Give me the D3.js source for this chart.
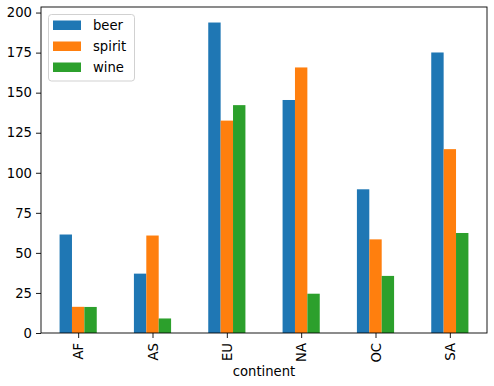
<!DOCTYPE html>
<html>
<head>
<meta charset="utf-8">
<script src="https://cdn.jsdelivr.net/npm/d3@7"></script>
<style>
  body { margin: 0; background: #fff; }
  text { font-family: "DejaVu Sans", sans-serif; fill: #000; }
</style>
</head>
<body>
<svg id="chart" width="494" height="386"></svg>
<script>
// mean servings per continent
const continents = ['AF', 'AS', 'EU', 'NA', 'OC', 'SA'];
const seriesNames = ['beer', 'spirit', 'wine'];
const beer = [61.47, 37.05, 193.78, 145.43, 89.69, 175.08];
const spirit = [16.34, 60.84, 132.56, 165.74, 58.44, 114.75];
const wine = [16.26, 9.07, 142.22, 24.52, 35.63, 62.42];
const yTicks = [0, 25, 50, 75, 100, 125, 150, 175, 200];
const colors = ['#1f77b4', '#ff7f0e', '#2ca02c'];

const series = [beer, spirit, wine];

const margin = {left: 41, right: 7, top: 7, bottom: 53};
const width = 494, height = 386;
const fontSize = 13.2;

const svg = d3.select('#chart');

// pandas puts groups at integer positions with xlim -0.5 .. n-0.5
const x = d3.scaleLinear()
    .domain([-0.5, continents.length - 0.5])
    .range([margin.left, width - margin.right]);

const yMax = d3.max(series.flat()) * 1.05;
const y = d3.scaleLinear()
    .domain([0, yMax])
    .range([height - margin.bottom, margin.top]);

const groupWidth = 0.5;
const barW = groupWidth / series.length;

// bars
series.forEach((vals, s) => {
  svg.append('g')
    .selectAll('rect')
    .data(vals)
    .join('rect')
      .attr('x', (d, i) => x(i - groupWidth / 2 + s * barW))
      .attr('width', x(barW) - x(0))
      .attr('y', d => y(d))
      .attr('height', d => y(0) - y(d))
      .attr('fill', colors[s]);
});

// y axis
const yAxis = svg.append('g')
    .attr('transform', `translate(${margin.left},0)`)
    .call(d3.axisLeft(y).tickValues(yTicks).tickSize(5).tickPadding(4));

// x axis with rotated labels
const xAxis = svg.append('g')
    .attr('transform', `translate(0,${height - margin.bottom})`)
    .call(d3.axisBottom(x).tickValues(d3.range(continents.length))
      .tickFormat(i => continents[i]).tickSize(5).tickPadding(0));

xAxis.selectAll('text')
    .attr('transform', 'rotate(-90)')
    .attr('text-anchor', 'end')
    .attr('x', -10)
    .attr('y', 0)
    .attr('dy', '0.36em');

[xAxis, yAxis].forEach(ax => {
  ax.selectAll('text').style('font-size', fontSize + 'px').attr('fill', '#000');
  ax.selectAll('line').attr('stroke', '#000').attr('stroke-width', 0.9);
  ax.select('.domain').remove();
});

// frame
svg.append('rect')
    .attr('x', margin.left)
    .attr('y', margin.top)
    .attr('width', width - margin.left - margin.right)
    .attr('height', height - margin.top - margin.bottom)
    .attr('fill', 'none')
    .attr('stroke', '#000')
    .attr('stroke-width', 0.9);

// x label
svg.append('text')
    .attr('x', (margin.left + width - margin.right) / 2)
    .attr('y', 376)
    .attr('text-anchor', 'middle')
    .style('font-size', fontSize + 'px')
    .text('continent');

// legend
const legend = svg.append('g');
legend.append('rect')
    .attr('x', 48.5).attr('y', 14.5)
    .attr('width', 86).attr('height', 66.5)
    .attr('rx', 3)
    .attr('fill', 'white').attr('fill-opacity', 0.8)
    .attr('stroke', '#cccccc').attr('stroke-width', 0.9);

seriesNames.forEach((name, s) => {
  const cy = 25 + s * 21;
  legend.append('rect')
      .attr('x', 53).attr('y', cy - 4.5)
      .attr('width', 28).attr('height', 9.5)
      .attr('fill', colors[s]);
  legend.append('text')
      .attr('x', 93).attr('y', cy)
      .attr('dy', '0.35em')
      .style('font-size', fontSize + 'px')
      .text(name);
});
</script>
</body>
</html>
